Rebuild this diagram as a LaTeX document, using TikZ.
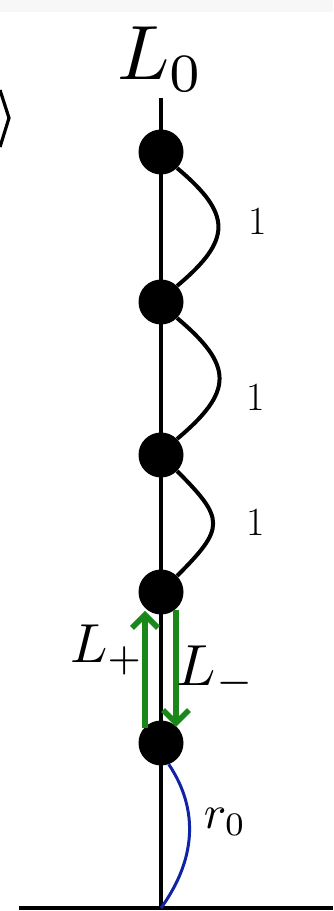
\documentclass[tikz,border=0pt]{standalone}
\usepackage{graphicx}
\usetikzlibrary{arrows.meta}
\definecolor{arrgreen}{RGB}{25,135,25}
\definecolor{rblue}{RGB}{15,35,165}
\tikzset{
  dot/.style={circle,fill=black,draw=none,minimum size=45pt,inner sep=0pt},
  mainline/.style={line width=4.2pt,black},
  loop/.style={line width=4pt,black},
  garrow/.style={line width=5.5pt,arrgreen,-{Straight Barb[length=13pt,width=26pt]}},
  lbl/.style={inner sep=0pt,anchor=base}
}
\begin{document}
\begin{tikzpicture}[x=1pt,y=1pt]
\useasboundingbox (0,0) rectangle (333,911);
\fill[gray!6] (0,899) rectangle (333,911);
% partial bracket at left
\draw[line width=3.2pt,line join=miter] (0,821) coordinate (bA) -- (9,793) coordinate (bB) -- (0,764) coordinate (bC);
% nodes
\coordinate (top) at (161,813);
\coordinate (bot) at (161,3);
\coordinate (hl) at (19,3);
\coordinate (hr) at (333,3);
\node[dot] (n1) at (161,759) {};
\node[dot] (n2) at (161,609) {};
\node[dot] (n3) at (161,456) {};
\node[dot] (n4) at (161,319) {};
\node[dot] (n5) at (161,168) {};
\draw[mainline] (top) -- (bot);
\draw[line width=4.5pt] (hl) -- (hr);
% loops
\draw[loop] (n1.-45) .. controls +(-40:72) and +(40:72) .. (n2.45);
\draw[loop] (n2.-45) .. controls +(-40:74) and +(40:74) .. (n3.45);
\draw[loop] (n3.-45) .. controls +(-45:68) and +(45:68) .. (n4.45);
% green arrows
\coordinate (ua) at (145,183);
\coordinate (ub) at (145,300);
\coordinate (da) at (176,301);
\coordinate (db) at (176,184);
\draw[garrow] (ua) -- (ub);
\draw[garrow] (da) -- (db);
% blue curve
\draw[line width=3pt,rblue] (n5.-70) .. controls (200,100) and (195,50) .. (bot);
% labels
\node[lbl] (l0) at (161,831) {\scalebox{7.7}{$L_0$}};
\node[lbl] (one1) at (258,676) {\fontsize{40}{44}\selectfont 1};
\node[lbl] (one2) at (256,500) {\fontsize{40}{44}\selectfont 1};
\node[lbl] (one3) at (256,375) {\fontsize{40}{44}\selectfont 1};
\node[lbl] (lp) at (107,249) {\scalebox{5.5}{$L_+$}};
\node[lbl] (lm) at (216,226) {\scalebox{5.8}{$L_-$}};
\node[lbl] (r0) at (225,83) {\scalebox{4.7}{$r_0$}};
\end{tikzpicture}
\end{document}
